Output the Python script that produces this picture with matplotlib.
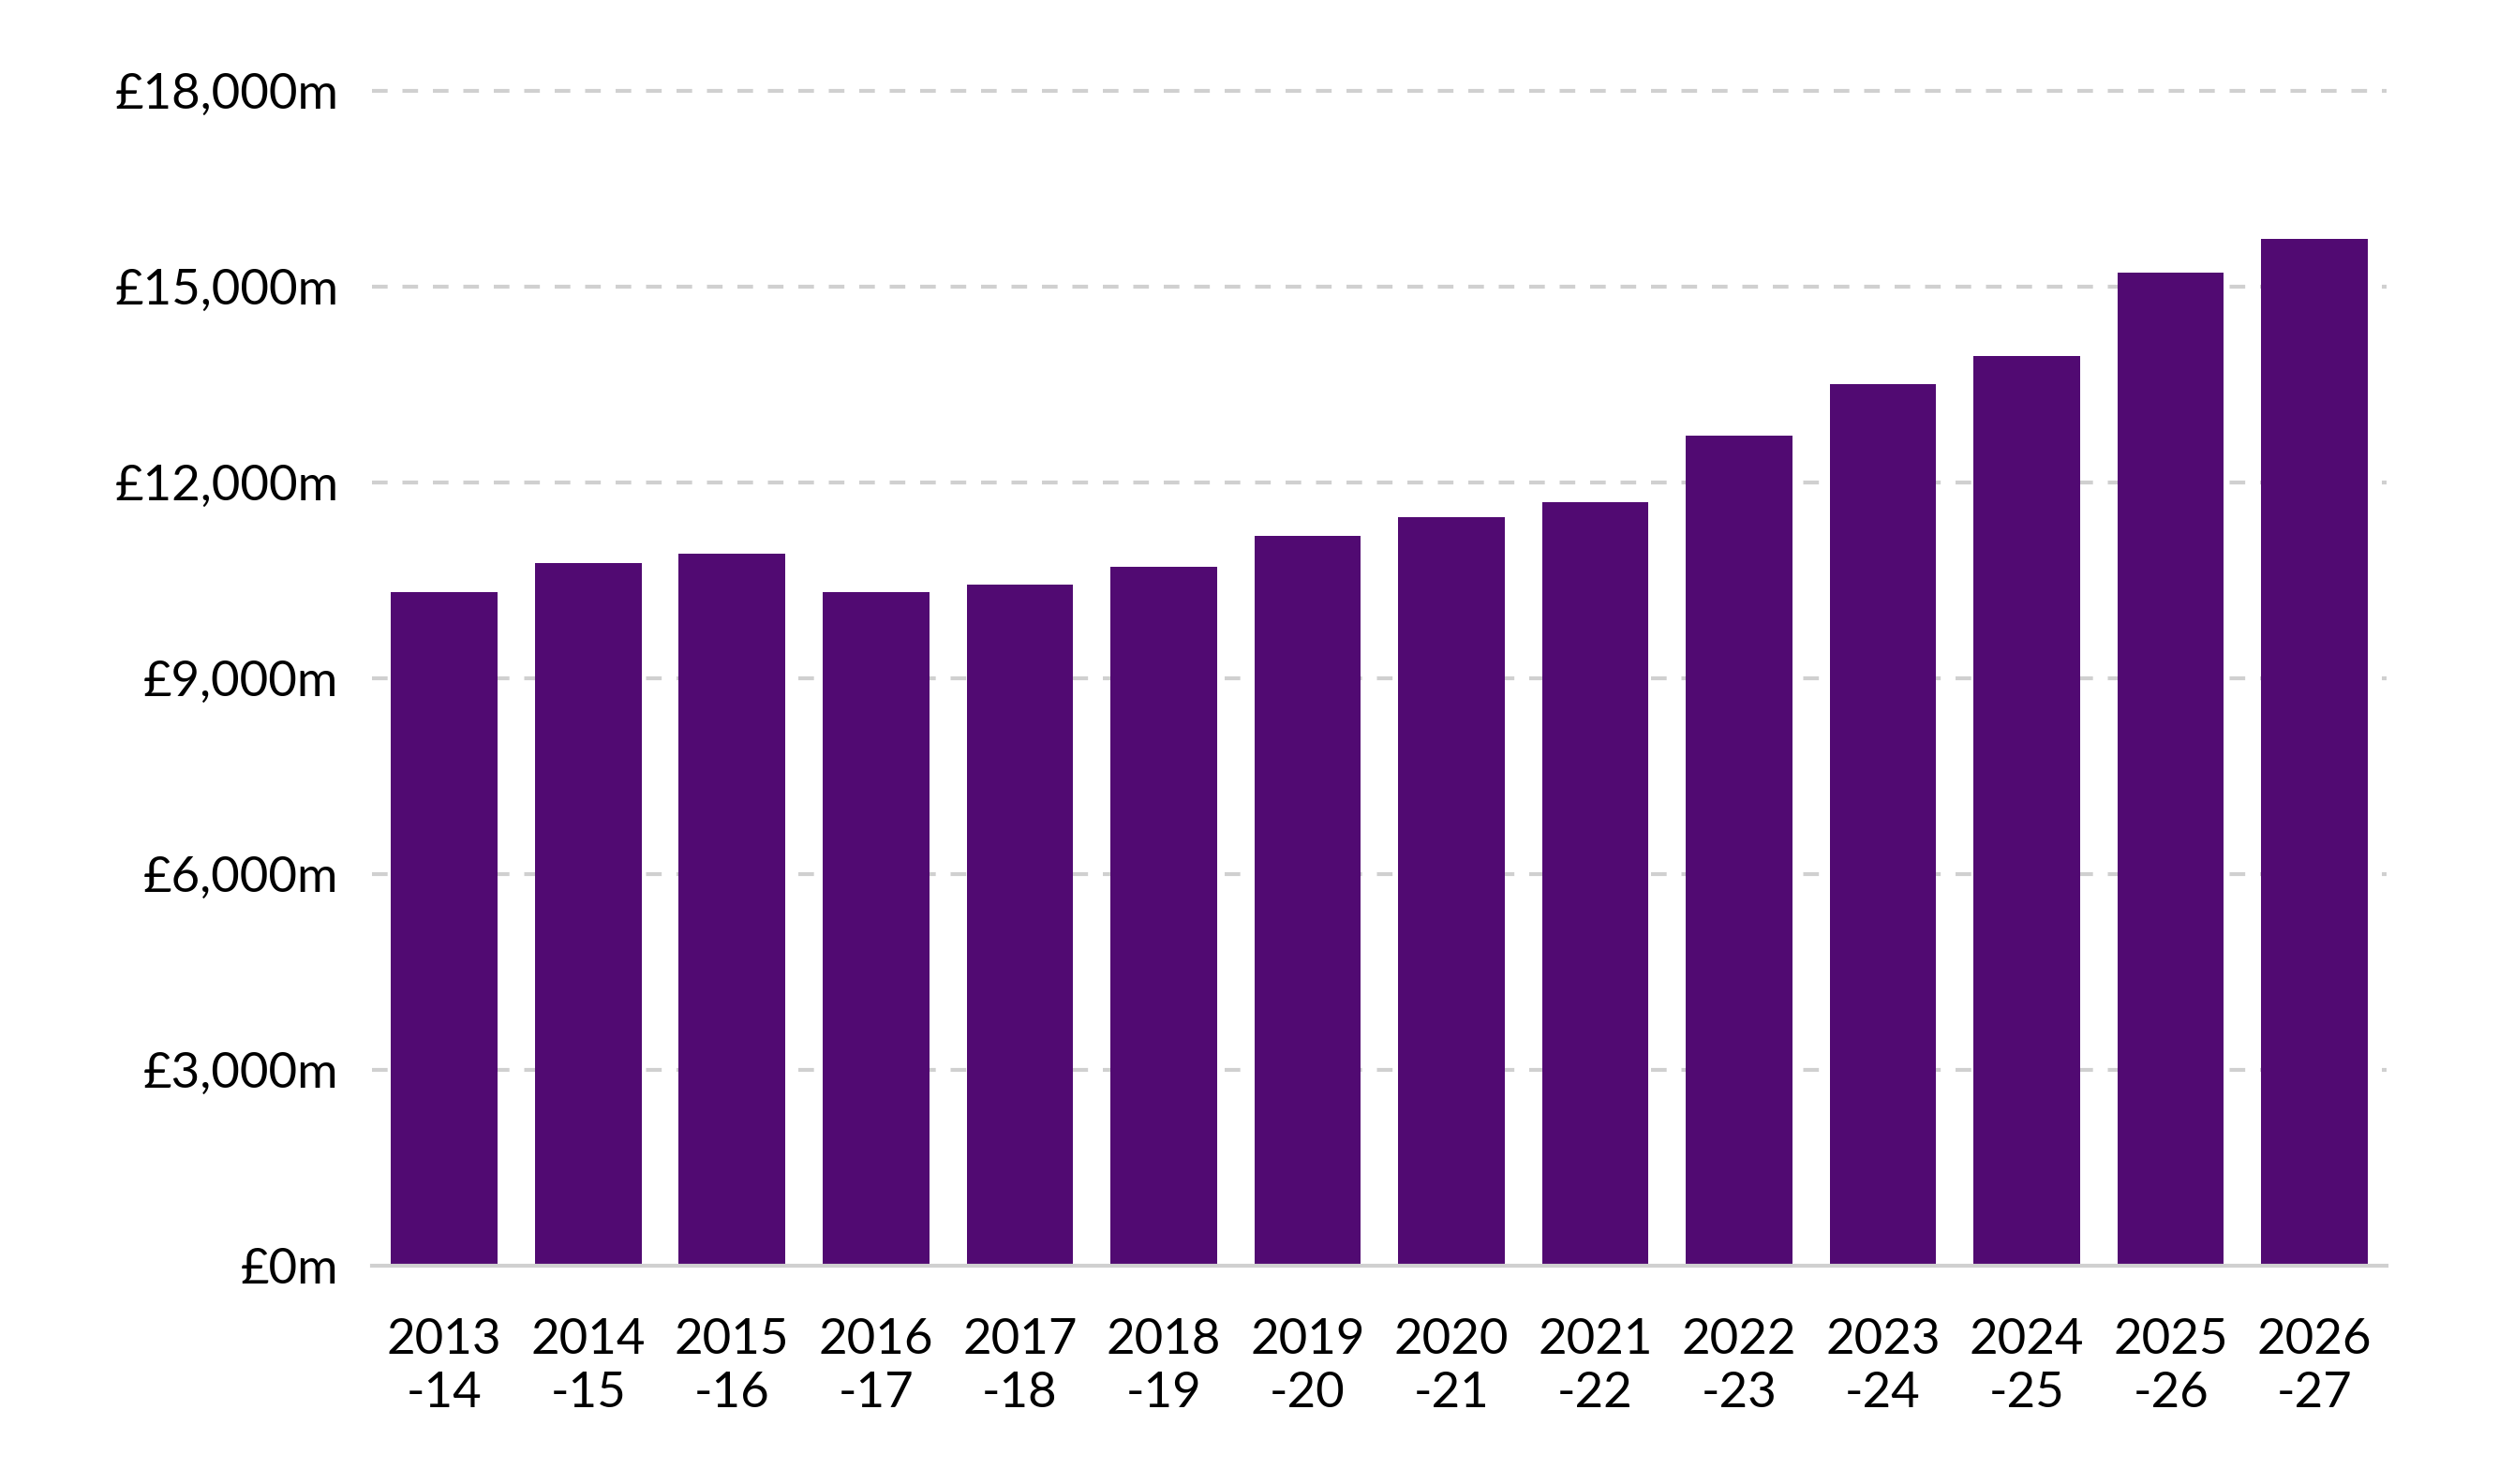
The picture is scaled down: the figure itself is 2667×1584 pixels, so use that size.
import matplotlib
matplotlib.use("Agg")
import matplotlib.pyplot as plt
from matplotlib.ticker import FuncFormatter

# spending by financial year, £m
years = ["2013\n-14", "2014\n-15", "2015\n-16", "2016\n-17", "2017\n-18", "2018\n-19", "2019\n-20",
         "2020\n-21", "2021\n-22", "2022\n-23", "2023\n-24", "2024\n-25", "2025\n-26", "2026\n-27"]
spend = [10320, 10760, 10910, 10320, 10440, 10710, 11180,
         11470, 11690, 12720, 13500, 13940, 15210, 15730]
y_ticks = [0, 3000, 6000, 9000, 12000, 15000, 18000]

BAR_COLOUR = "#510A72"
GRID_COLOUR = "#D0D0D0"

plt.rcParams['font.family'] = ['Lato', 'DejaVu Sans']

fig = plt.figure(figsize=(26.67, 15.84), dpi=100)
ax = fig.add_axes([0.149, 0.147, 0.806, 0.792])

xs = range(len(years))
ax.bar(xs, spend, width=0.74, color=BAR_COLOUR, zorder=3)

ax.set_xlim(-0.5, len(years) - 0.5)
ax.set_ylim(0, 18000)
ax.set_yticks(y_ticks)
ax.yaxis.set_major_formatter(FuncFormatter(lambda v, p: f"£{v:,.0f}m"))
ax.set_xticks(list(xs))
ax.set_xticklabels(years, linespacing=1.28)

for v in y_ticks[1:]:
    ax.axhline(v, color=GRID_COLOUR, lw=3.0, dashes=(4.0, 3.8), zorder=1, clip_on=False)
ax.axhline(0, color=GRID_COLOUR, lw=3.0, zorder=4, clip_on=False)

for s in ax.spines.values():
    s.set_visible(False)
ax.tick_params(axis="both", length=0, labelsize=38, colors="black")
ax.tick_params(axis="y", pad=26)
ax.tick_params(axis="x", pad=40)

fig.savefig("out.png", dpi=100, facecolor="white")
